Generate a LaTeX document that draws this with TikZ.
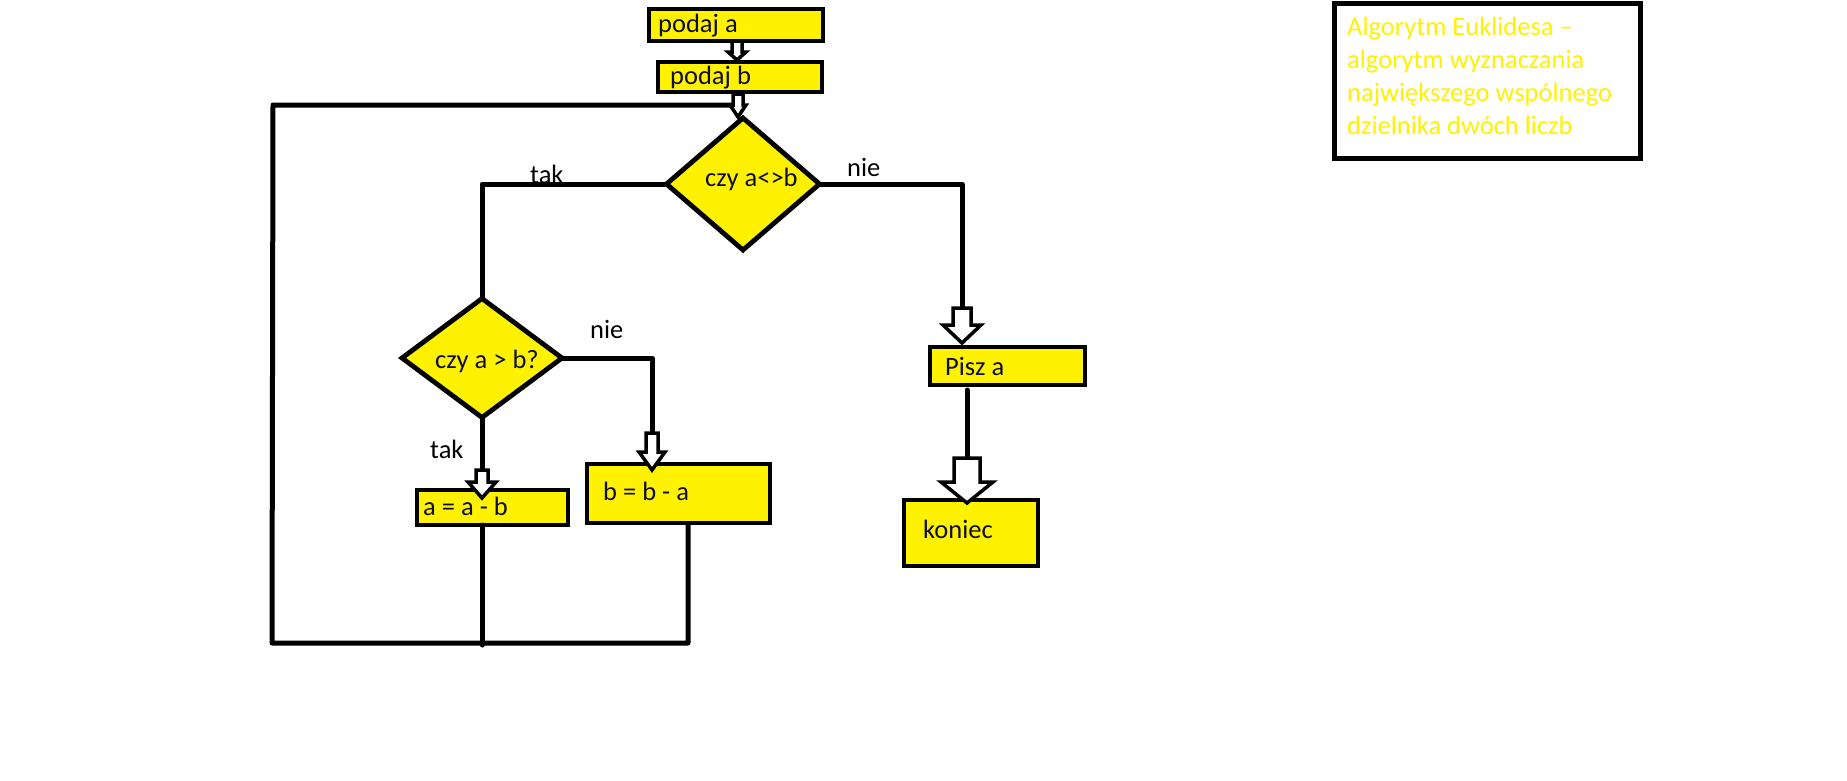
\documentclass[tikz,border=0pt]{standalone}
\usepackage{fontspec}
\setmainfont{Carlito}
\usetikzlibrary{shapes.geometric,calc}
\definecolor{paintyellow}{RGB}{255,242,0}
\definecolor{ink}{RGB}{14,14,44}

% block arrow pointing down: #1 shaft top, #2 tip, #3 shaft half width, #4 head half width, #5 head length
\newcommand\blockarrow[5]{%
  \path let \p1=(#1), \p2=(#2) in
    [draw, fill=white, line width=3.5pt, line join=miter]
    (\x2-#3pt,\y1) -- (\x2-#3pt,\y2+#5pt) -- (\x2-#4pt,\y2+#5pt) -- (\x2,\y2)
    -- (\x2+#4pt,\y2+#5pt) -- (\x2+#3pt,\y2+#5pt) -- (\x2+#3pt,\y1) -- cycle;}

\begin{document}
\begin{tikzpicture}[x=1pt,y=-1pt,
  flow/.style={line width=5pt, line cap=round, line join=round},
  boxnode/.style={draw, line width=4.8pt, fill=paintyellow, rectangle, inner sep=0pt, outer sep=0pt},
  decision/.style={draw, line width=4.8pt, fill=paintyellow, diamond, inner sep=0pt, outer sep=0pt},
  txt/.style={anchor=base west, inner sep=0pt, font=\fontsize{26.5}{32}\selectfont, text=ink},
  lbl/.style={txt, text=black},
  ttl/.style={txt, text=paintyellow}]

\useasboundingbox (0,0) rectangle (1847,780);

% junction points of the connectors
\coordinate (nieTop) at (962,308);
\coordinate (nieTip) at (962,343);
\coordinate (bTop) at (652,433);
\coordinate (bTip) at (652,470);
\coordinate (aTop) at (482,470);
\coordinate (aTip) at (482,498);
\coordinate (piszOut) at (967,390);
\coordinate (konTop) at (967,458);
\coordinate (konTip) at (967,503);
\coordinate (aOut) at (482,525);
\coordinate (aLow) at (482,645);
\coordinate (bOut) at (688,525);
\coordinate (bLow) at (688,643);
\coordinate (loopBL) at (272,643);
\coordinate (loopTL) at (273,105);
\coordinate (loopIn) at (738,105);
\coordinate (paOut) at (737,41);
\coordinate (paTip) at (737,60);
\coordinate (pbOut) at (738,94);
\coordinate (pbTip) at (738,117);

% process boxes and decisions
\node[boxnode, minimum width=174pt, minimum height=32pt] (pa) at (736,25) {};
\node[boxnode, minimum width=164pt, minimum height=30pt] (pb) at (740,77) {};
\node[decision, minimum width=153pt, minimum height=132pt] (d1) at (743,184) {};
\node[decision, minimum width=160pt, minimum height=119pt] (d2) at (482,358) {};
\node[boxnode, minimum width=151pt, minimum height=35pt] (ab) at (492.5,507.5) {};
\node[boxnode, minimum width=183pt, minimum height=59pt] (bb) at (678.5,493.5) {};
\node[boxnode, minimum width=155pt, minimum height=38pt] (pisz) at (1007.5,366) {};
\node[boxnode, minimum width=134pt, minimum height=66pt] (kon) at (971,533) {};
\node[draw, line width=5pt, inner sep=0pt, minimum width=306pt, minimum height=155pt] (title) at (1487,80.5) {};

% connectors
\draw[flow] (d1.west) -| (d2.north);
\draw[flow] (d1.east) -| (nieTop);
\draw[flow] (d2.east) -| (bTop);
\draw[flow] (d2.south) -- (aTop);
\draw[flow] (piszOut) -- (konTop);
\draw[flow] (aOut) -- (aLow);
\draw[flow] (bOut) -- (bLow) -- (loopBL) -- (loopTL) -- (loopIn);

% block arrow heads
\blockarrow{paOut}{paTip}{5}{9}{8}
\blockarrow{pbOut}{pbTip}{5}{8}{12}
\blockarrow{nieTop}{nieTip}{9}{19}{18}
\blockarrow{konTop}{konTip}{13}{26}{21}
\blockarrow{bTop}{bTip}{6}{13}{18}
\blockarrow{aTop}{aTip}{6}{14}{16}

% texts
\node[txt] (tpa) at (658,32) {podaj a};
\node[txt] (tpb) at (670,84) {podaj b};
\node[txt] (td1) at (705,186) {czy a<>b};
\node[txt] (td2) at (435,368) {czy a > b?};
\node[txt] (tab) at (423,515) {a = a - b};
\node[txt] (tbb) at (603,500) {b = b - a};
\node[txt] (tpisz) at (945,375) {Pisz a};
\node[txt] (tkon) at (923,538) {koniec};

\node[lbl] (l1) at (530,183) {tak};
\node[lbl] (l2) at (847,176) {nie};
\node[lbl] (l3) at (590,338) {nie};
\node[lbl] (l4) at (430,458) {tak};

\node[ttl] (h1) at (1347,35) {Algorytm Euklidesa –};
\node[ttl] (h2) at (1347,68) {algorytm wyznaczania};
\node[ttl] (h3) at (1347,101) {największego wspólnego};
\node[ttl] (h4) at (1347,134) {dzielnika dwóch liczb};
\end{tikzpicture}
\end{document}
